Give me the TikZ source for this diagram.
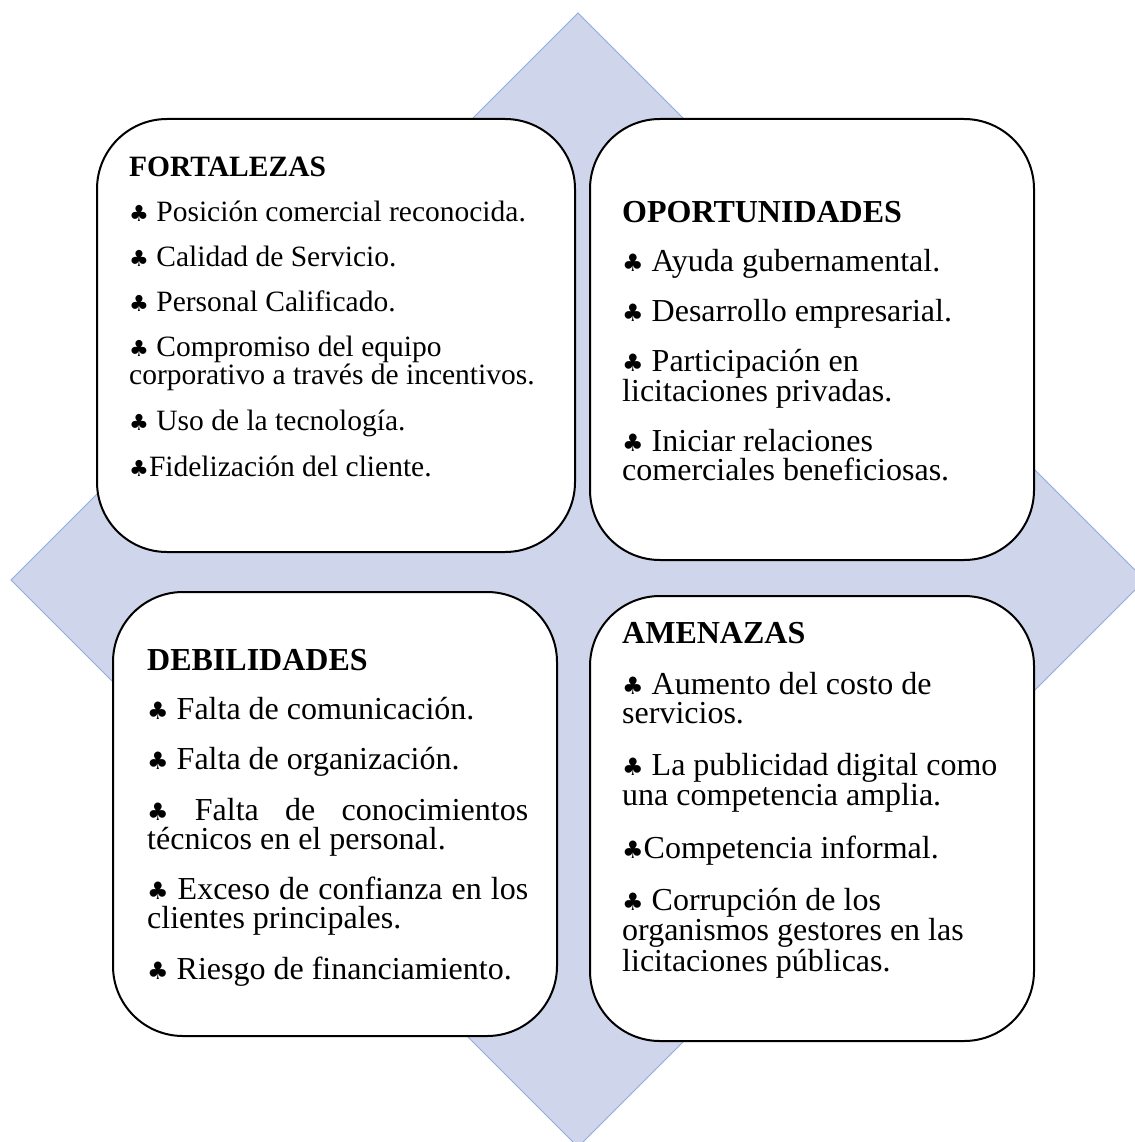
\documentclass[tikz,border=0pt]{standalone}
\usepackage{fontspec}
\setmainfont{Liberation Serif}
\newfontfamily\clubfont{DejaVu Sans}[Scale=0.75]
\newcommand{\clb}{{\clubfont ♣}}
\newcommand{\boxsetup}[1]{\setlength{\parskip}{#1}\spaceskip=0pt\xspaceskip=0pt}
\definecolor{swotfill}{HTML}{CFD5EA}
\definecolor{swotedge}{HTML}{8FAADC}
\hyphenpenalty=10000
\lineskiplimit=-50pt
\tikzset{
  swotbox/.style={draw=black, line width=2pt, fill=white, rounded corners=70pt, inner sep=0pt},
  swottext/.style={anchor=north west, inner sep=0pt, align=left},
  fortfont/.style={font=\fontsize{29.5pt}{26.5pt}\selectfont},
  quadfont/.style={font=\fontsize{32pt}{29pt}\selectfont}
}
\begin{document}
\begin{tikzpicture}[x=1pt, y=-1pt]
  \useasboundingbox (0,0) rectangle (1134,1142);
  % diamond behind the four boxes
  \draw (578,13)--(1145,580)--(578,1147)--(11,580)--cycle [fill=swotfill, draw=swotedge, line width=1pt];
  % boxes
  \node (fort) [swotbox, minimum width=478pt, minimum height=433pt] at (336,335.5) {};
  \node (opor) [swotbox, minimum width=444pt, minimum height=441pt] at (812,339.5) {};
  \node (debil) [swotbox, minimum width=444pt, minimum height=444pt] at (335,814) {};
  \node (amen) [swotbox, minimum width=444pt, minimum height=445pt] at (812,818.5) {};
  % texts
  \node (fortText) [swottext, fortfont, text width=430pt] at ([xshift=33pt, yshift=-38.5pt]fort.north west) {\boxsetup{18.5pt}%
    \textbf{FORTALEZAS}\par
    \clb{} Posición comercial reconocida.\par
    \clb{} Calidad de Servicio.\par
    \clb{} Personal Calificado.\par
    \clb{} Compromiso del equipo\newline corporativo a través de incentivos.\par
    \clb{} Uso de la tecnología.\par
    \clb Fidelización del cliente.};
  \node (oporText) [swottext, quadfont, text width=400pt] at ([xshift=33pt, yshift=-83pt]opor.north west) {\boxsetup{20pt}%
    \textbf{OPORTUNIDADES}\par
    \clb{} Ayuda gubernamental.\par
    \clb{} Desarrollo empresarial.\par
    \clb{} Participación en\newline licitaciones privadas.\par
    \clb{} Iniciar relaciones\newline comerciales beneficiosas.};
  \node (debilText) [swottext, quadfont, text width=381pt, align=justify] at ([xshift=35pt, yshift=-58pt]debil.north west) {\boxsetup{20.5pt}%
    \textbf{DEBILIDADES}\par
    \clb{} Falta de comunicación.\par
    \clb{} Falta de organización.\par
    \clb{} Falta de conocimientos\linebreak técnicos en el personal.\par
    \clb{} Exceso de confianza en los\linebreak clientes principales.\par
    \clb{} Riesgo de financiamiento.};
  \node (amenText) [swottext, quadfont, text width=400pt] at ([xshift=33pt, yshift=-27pt]amen.north west) {\boxsetup{22.5pt}%
    \textbf{AMENAZAS}\par
    \clb{} Aumento del costo de\newline servicios.\par
    \clb{} La publicidad digital como\newline una competencia amplia.\par
    \clb Competencia informal.\par
    \clb{} Corrupción de los\newline organismos gestores en las\newline licitaciones públicas.};
\end{tikzpicture}
\end{document}
